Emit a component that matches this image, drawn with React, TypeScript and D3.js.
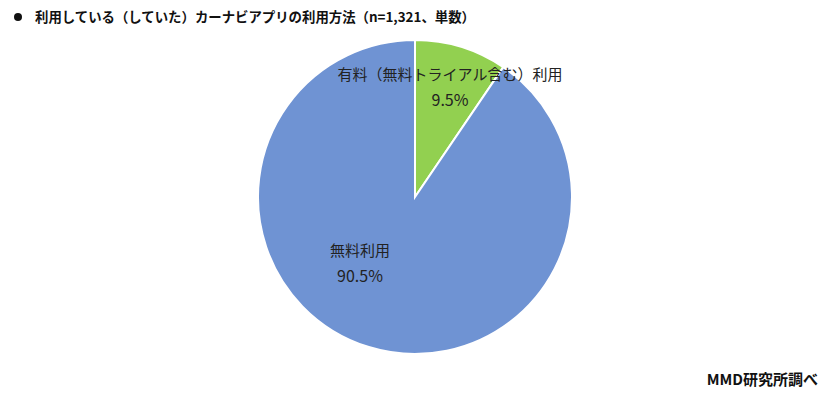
import { useEffect, useRef } from "react";
import * as d3 from "d3";

const categories = ["有料（無料トライアル含む）利用", "無料利用"];
const values = [9.5, 90.5];
const colors = ["#92D050", "#6F93D3"];

export default function App() {
  const svgRef = useRef<SVGSVGElement>(null);

  useEffect(() => {
    if (!svgRef.current) return;
    const svg = d3.select(svgRef.current);
    svg.selectAll("*").remove();

    const cx = 415;
    const cy = 197;
    const r = 157;

    const data = categories.map((c, i) => ({ name: c, value: values[i], color: colors[i] }));
    const pie = d3.pie<typeof data[0]>().value((d) => d.value).sort(null);
    const arc = d3.arc<d3.PieArcDatum<typeof data[0]>>().innerRadius(0).outerRadius(r);
    const arcs = pie(data);

    const g = svg.append("g").attr("transform", `translate(${cx},${cy})`);

    g.selectAll("path")
      .data(arcs)
      .enter()
      .append("path")
      .attr("d", arc)
      .attr("fill", (d) => d.data.color)
      .attr("stroke", "#fff")
      .attr("stroke-width", 2);

    // label positions (relative to centre)
    const labelPos = [
      { x: 35, y: -117 },
      { x: -55, y: 59 },
    ];

    arcs.forEach((d, i) => {
      const p = labelPos[i];
      const t = g
        .append("text")
        .attr("text-anchor", "middle")
        .attr("font-size", "15px")
        .attr("fill", "#222");
      t.append("tspan").attr("x", p.x).attr("y", p.y).text(d.data.name);
      t.append("tspan")
        .attr("x", p.x)
        .attr("y", p.y + 26)
        .attr("font-size", "16px")
        .text(`${d.data.value.toFixed(1)}%`);
    });

    // Title
    svg
      .append("circle")
      .attr("cx", 18)
      .attr("cy", 17)
      .attr("r", 4)
      .attr("fill", "#111");
    svg
      .append("text")
      .attr("x", 35)
      .attr("y", 22)
      .attr("font-size", "13.4px")
      .attr("font-weight", "bold")
      .attr("fill", "#111")
      .text("利用している（していた）カーナビアプリの利用方法（n=1,321、単数）");

    svg
      .append("text")
      .attr("x", 818)
      .attr("y", 385)
      .attr("text-anchor", "end")
      .attr("font-size", "15px")
      .attr("font-weight", "bold")
      .attr("fill", "#111")
      .text("MMD研究所調べ");
  }, []);

  return (
    <svg
      ref={svgRef}
      width={831}
      height={395}
      style={{
        position: "absolute",
        left: 0,
        top: 0,
        background: "#fff",
        fontFamily: "'Noto Sans CJK JP', 'Noto Sans', sans-serif",
      }}
    />
  );
}
